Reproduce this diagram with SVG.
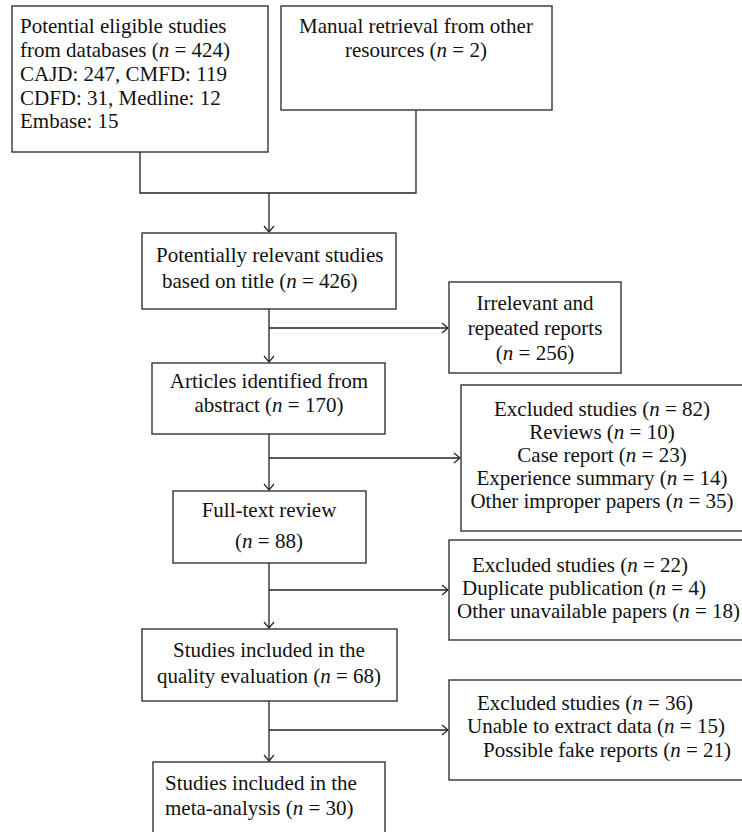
<svg xmlns="http://www.w3.org/2000/svg" width="742" height="832" viewBox="0 0 742 832">
<defs>
<marker id="arr" markerWidth="12" markerHeight="12" refX="10" refY="6" orient="auto" markerUnits="userSpaceOnUse">
<path d="M4,1 L10,6 L4,11" fill="none" stroke="#222" stroke-width="1.2"/>
</marker>
<style>
.box{fill:#fff;stroke:#333;stroke-width:1.4}
.ln{fill:none;stroke:#222;stroke-width:1.3}
text{font-size:21px;fill:#111}
.c{text-anchor:middle}
.i{font-style:italic}
</style>
</defs>
<rect width="742" height="832" fill="#fff"/>
<g id="connectors">
<path class="ln" d="M140,152 V193 H416 V110"/>
<path class="ln" d="M269,193 V232" marker-end="url(#arr)"/>
<path class="ln" d="M269,309 V362" marker-end="url(#arr)"/>
<path class="ln" d="M269,328 H448" marker-end="url(#arr)"/>
<path class="ln" d="M269,434 V490" marker-end="url(#arr)"/>
<path class="ln" d="M269,458 H460" marker-end="url(#arr)"/>
<path class="ln" d="M269,563 V628" marker-end="url(#arr)"/>
<path class="ln" d="M269,590 H448" marker-end="url(#arr)"/>
<path class="ln" d="M269,701 V761" marker-end="url(#arr)"/>
<path class="ln" d="M269,730 H448" marker-end="url(#arr)"/>
</g>
<g font-family="'Liberation Serif', 'DejaVu Serif', serif">
<g id="n1">
<rect class="box" x="12" y="6" width="256" height="146"/>
<text x="20" y="33">Potential eligible studies</text>
<text x="20" y="57">from databases (<tspan class="i">n</tspan> = 424)</text>
<text x="20" y="81">CAJD: 247, CMFD: 119</text>
<text x="20" y="105">CDFD: 31, Medline: 12</text>
<text x="20" y="128">Embase: 15</text>
</g>
<g id="n2">
<rect class="box" x="281" y="6" width="271" height="104"/>
<text class="c" x="416" y="33">Manual retrieval from other</text>
<text class="c" x="416" y="57">resources (<tspan class="i">n</tspan> = 2)</text>
</g>
<g id="n3">
<rect class="box" x="142" y="233" width="254" height="76"/>
<text x="156" y="262">Potentially relevant studies</text>
<text x="162" y="288">based on title (<tspan class="i">n</tspan> = 426)</text>
</g>
<g id="n4">
<rect class="box" x="449" y="282" width="172" height="91"/>
<text class="c" x="535" y="310">Irrelevant and</text>
<text class="c" x="535" y="335">repeated reports</text>
<text class="c" x="535" y="360">(<tspan class="i">n</tspan> = 256)</text>
</g>
<g id="n5">
<rect class="box" x="152" y="363" width="233" height="71"/>
<text class="c" x="269" y="388">Articles identified from</text>
<text class="c" x="269" y="412">abstract (<tspan class="i">n</tspan> = 170)</text>
</g>
<g id="n6">
<rect class="box" x="461" y="385" width="290" height="146"/>
<text class="c" x="602" y="416">Excluded studies (<tspan class="i">n</tspan> = 82)</text>
<text class="c" x="602" y="439">Reviews (<tspan class="i">n</tspan> = 10)</text>
<text class="c" x="602" y="462">Case report (<tspan class="i">n</tspan> = 23)</text>
<text class="c" x="602" y="485">Experience summary (<tspan class="i">n</tspan> = 14)</text>
<text class="c" x="602" y="508">Other improper papers (<tspan class="i">n</tspan> = 35)</text>
</g>
<g id="n7">
<rect class="box" x="173" y="491" width="193" height="72"/>
<text class="c" x="269" y="517">Full-text review</text>
<text class="c" x="269" y="548">(<tspan class="i">n</tspan> = 88)</text>
</g>
<g id="n8">
<rect class="box" x="449" y="540" width="300" height="100"/>
<text x="472" y="572">Excluded studies (<tspan class="i">n</tspan> = 22)</text>
<text x="462" y="595">Duplicate publication (<tspan class="i">n</tspan> = 4)</text>
<text x="457" y="618">Other unavailable papers (<tspan class="i">n</tspan> = 18)</text>
</g>
<g id="n9">
<rect class="box" x="142" y="629" width="255" height="72"/>
<text class="c" x="269" y="657">Studies included in the</text>
<text class="c" x="269" y="683">quality evaluation (<tspan class="i">n</tspan> = 68)</text>
</g>
<g id="n10">
<rect class="box" x="449" y="680" width="300" height="100"/>
<text x="477" y="710">Excluded studies (<tspan class="i">n</tspan> = 36)</text>
<text x="467" y="733">Unable to extract data (<tspan class="i">n</tspan> = 15)</text>
<text x="483" y="757">Possible fake reports (<tspan class="i">n</tspan> = 21)</text>
</g>
<g id="n11">
<rect class="box" x="153" y="762" width="232" height="80"/>
<text x="165" y="790">Studies included in the</text>
<text x="165" y="815">meta-analysis (<tspan class="i">n</tspan> = 30)</text>
</g>
</g>
</svg>
